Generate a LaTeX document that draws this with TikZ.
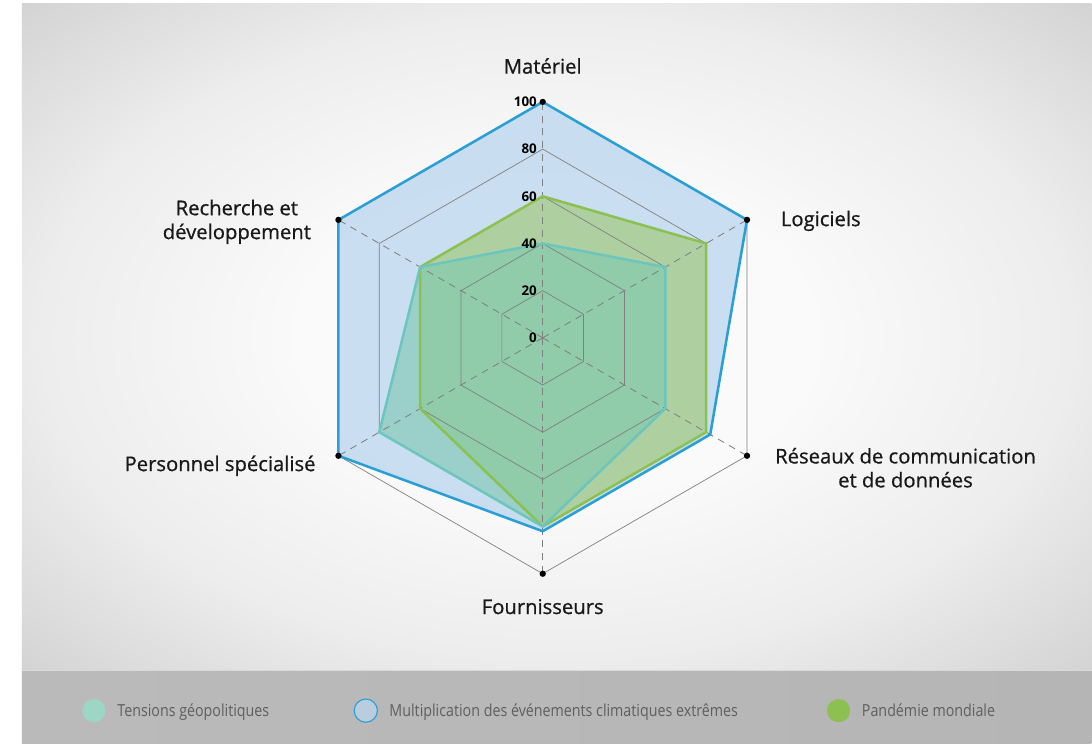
\documentclass[tikz,border=0pt]{standalone}
\usepackage{fontspec}
\setmainfont{Open Sans}
\newfontfamily\axefont[FakeBold=0.7]{Open Sans}
\newfontfamily\legfont[FakeStretch=0.86]{Open Sans}
\usetikzlibrary{positioning}

\definecolor{bgin}{HTML}{FAFAFA}
\definecolor{bgmid}{HTML}{EDEDED}
\definecolor{bgout}{HTML}{D2D2D2}
\definecolor{climline}{HTML}{2A9FD6}
\definecolor{climfill}{HTML}{C4DBF0}
\definecolor{pandline}{HTML}{8CC152}
\definecolor{pandfill}{HTML}{A3CB80}
\definecolor{tensline}{HTML}{6CC6BD}
\definecolor{tensfill}{HTML}{7CC8B0}
\definecolor{gridc}{HTML}{808080}
\definecolor{legtext}{HTML}{5F5F5F}
\pgfdeclareradialshading{fond}{\pgfpoint{0bp}{0bp}}{color(0bp)=(bgin); color(12bp)=(bgin); color(24bp)=(bgmid); color(36bp)=(bgout); color(50bp)=(bgout)}

\begin{document}
\begin{tikzpicture}[x=0.025cm,y=0.025cm]
\tikzstyle{axe} = [font=\axefont\fontsize{14.4}{17}\selectfont, text=black!90, inner sep=0pt, align=center]
\tikzstyle{tick} = [font=\fontsize{9.5}{11}\selectfont\bfseries, anchor=east, inner sep=0pt, xshift=-4pt]
\tikzstyle{grille} = [gridc, line width=0.5pt, line join=round]
\tikzstyle{rayon} = [gridc, line width=0.6pt, dash pattern=on 5pt off 4pt]
\tikzstyle{serie} = [line width=1.8pt, line join=round]
\tikzstyle{legdot} = [circle, minimum size=16.5pt, inner sep=0pt]
\tikzstyle{legtxt} = [font=\legfont\fontsize{11.8}{14}\selectfont, text=legtext, inner sep=0pt, text height=0.72em, text depth=0.22em, yshift=-1.6pt]
% fond
\fill[white] (0,0) rectangle (1092,744);
\shade[shading=fond] (22,73) rectangle (1092,740);
\shade[left color=black!27, middle color=black!22, right color=black!29] (22,0) rectangle (1092,73);
\draw[white!85!black, line width=0.8pt] (22,73) -- (1092,73);
% radar
\begin{scope}[shift={(543,406)}, scale=2.36]
\def\clim{(90:100) -- (30:100) -- (-30:82) -- (-90:82) -- (-150:100) -- (150:100) -- cycle}
\def\pand{(90:60) -- (30:80) -- (-30:80) -- (-90:80) -- (-150:60) -- (150:60) -- cycle}
\def\tens{(90:40) -- (30:60) -- (-30:60) -- (-90:80) -- (-150:80) -- (150:60) -- cycle}
\fill[climfill, fill opacity=0.9] \clim;
\fill[pandfill, fill opacity=0.7] \pand;
\fill[tensfill, fill opacity=0.6] \tens;
\foreach \i in {0,...,5}
  \coordinate (a\i) at (90-60*\i:100);
\coordinate (o) at (0,0);
\foreach \r in {20,40,...,100}
  \draw[grille] (90:\r) -- (30:\r) -- (-30:\r) -- (-90:\r) -- (-150:\r) -- (150:\r) -- cycle;
\foreach \i in {0,...,5}
  \draw[rayon] (o) -- (a\i);
\draw[serie, climline] \clim;
\draw[serie, pandline] \pand;
\draw[serie, tensline] \tens;
\foreach \i in {0,...,5}
  \fill[black] (a\i) circle (0.95pt);
\foreach \t in {0,20,...,100}
  \node[tick] (t\t) at (0,\t) {\t};
\end{scope}
% libelles
\node[axe] (mat) at (543,678) {Matériel};
\node[axe, anchor=west] (log) at (781,523) {Logiciels};
\node[axe] (res) at (906,276) {Réseaux de communication\\et de données};
\node[axe] (fou) at (543,137) {Fournisseurs};
\node[axe, anchor=east] (per) at (316,278) {Personnel spécialisé};
\node[axe] (rec) at (237,522) {Recherche et\\développement};
% legende
\node[legdot, fill=tensfill!75!white] (ltens) at (94,33) {};
\node[legtxt, right=8pt of ltens] (ttens) {Tensions géopolitiques};
\node[legdot, fill=climfill!85!gray, draw=climline, line width=0.8pt] (lclim) at (366,33) {};
\node[legtxt, right=8pt of lclim] (tclim) {Multiplication des événements climatiques extrêmes};
\node[legdot, fill=pandline] (lpand) at (839,33) {};
\node[legtxt, right=8pt of lpand] (tpand) {Pandémie mondiale};
\end{tikzpicture}
\end{document}
